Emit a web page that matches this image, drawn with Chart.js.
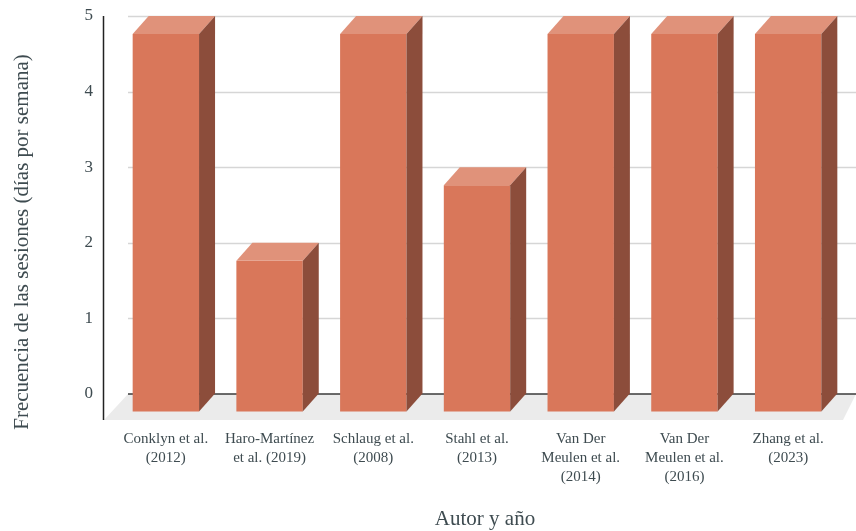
<!DOCTYPE html>
<html lang="es">
<head>
    <meta charset="UTF-8">
    <title>Frecuencia de las sesiones</title>
    <style>
        body {
            margin: 0;
            background: #ffffff;
        }
        #chartContainer {
            width: 856px;
            height: 531px;
        }
    </style>
    <script src="https://cdn.jsdelivr.net/npm/chart.js"></script>
</head>
<body>
    <div id="chartContainer">
        <canvas id="barChart"></canvas>
    </div>
    <script>
        const autores = [
            ['Conklyn et al.', '(2012)'],
            ['Haro-Martínez', 'et al. (2019)'],
            ['Schlaug et al.', '(2008)'],
            ['Stahl et al.', '(2013)'],
            ['Van Der', 'Meulen et al.', '(2014)'],
            ['Van Der', 'Meulen et al.', '(2016)'],
            ['Zhang et al.', '(2023)']
        ];
        const diasPorSemana = [5, 2, 5, 3, 5, 5, 5];
        const marcasY = [0, 1, 2, 3, 4, 5];

        const tituloY = 'Frecuencia de las sesiones (días por semana)';
        const tituloX = 'Autor y año';

        const FUENTE = "'Liberation Serif', 'DejaVu Serif', serif";
        const COLOR_TEXTO = '#3e4b50';

        // depth of the fake 3D boxes
        const PROF_X = 16;
        const PROF_Y = 18;

        const colores = {
            frente: '#d9775a',
            arriba: '#e0927a',
            lado: '#8c4d3b',
            suelo: '#ebebeb',
            rejilla: '#d6d6d6',
            cero: '#3a3a3a',
            eje: '#222222'
        };

        // Floor, gridlines and the 3D boxes are drawn here from the scales
        const barras3D = {
            id: 'barras3D',
            beforeDatasetsDraw(chart) {
                const { ctx, chartArea, scales } = chart;
                const yEsc = scales.y;
                const y0 = yEsc.getPixelForValue(0);
                const izq = chartArea.left + PROF_X - 2;
                const der = chartArea.right + PROF_X;

                ctx.save();
                // floor
                ctx.fillStyle = colores.suelo;
                ctx.beginPath();
                ctx.moveTo(izq, y0);
                ctx.lineTo(der, y0);
                ctx.lineTo(der - 13, y0 + 26);
                ctx.lineTo(izq - 24, y0 + 26);
                ctx.closePath();
                ctx.fill();

                // gridlines on the back wall
                marcasY.forEach(v => {
                    if (v === 0) return;
                    const y = Math.round(yEsc.getPixelForValue(v)) + 0.5;
                    ctx.strokeStyle = colores.rejilla;
                    ctx.lineWidth = 1.5;
                    ctx.beginPath();
                    ctx.moveTo(izq, y);
                    ctx.lineTo(der, y);
                    ctx.stroke();
                });

                ctx.strokeStyle = colores.cero;
                ctx.lineWidth = 1.5;
                ctx.beginPath();
                ctx.moveTo(izq, y0);
                ctx.lineTo(der, y0);
                ctx.stroke();
                ctx.restore();
            },
            afterDatasetsDraw(chart) {
                const { ctx, chartArea } = chart;
                const meta = chart.getDatasetMeta(0);
                ctx.save();
                meta.data.forEach(el => {
                    const x0 = el.x - el.width / 2;
                    const x1 = el.x + el.width / 2;
                    const yt = el.y + PROF_Y;
                    const yb = el.base + PROF_Y;

                    ctx.fillStyle = colores.frente;
                    ctx.fillRect(x0, yt, x1 - x0, yb - yt);

                    ctx.fillStyle = colores.arriba;
                    ctx.beginPath();
                    ctx.moveTo(x0, yt);
                    ctx.lineTo(x1, yt);
                    ctx.lineTo(x1 + PROF_X, yt - PROF_Y);
                    ctx.lineTo(x0 + PROF_X, yt - PROF_Y);
                    ctx.closePath();
                    ctx.fill();

                    ctx.fillStyle = colores.lado;
                    ctx.beginPath();
                    ctx.moveTo(x1, yt);
                    ctx.lineTo(x1 + PROF_X, yt - PROF_Y);
                    ctx.lineTo(x1 + PROF_X, yb - PROF_Y);
                    ctx.lineTo(x1, yb);
                    ctx.closePath();
                    ctx.fill();
                });

                // vertical axis line
                ctx.strokeStyle = colores.eje;
                ctx.lineWidth = 1.5;
                ctx.beginPath();
                ctx.moveTo(chartArea.left - 10.5, chartArea.top);
                ctx.lineTo(chartArea.left - 10.5, chart.scales.y.getPixelForValue(0) + 26);
                ctx.stroke();
                ctx.restore();
            },
            afterDraw(chart) {
                const { ctx } = chart;
                ctx.save();
                ctx.fillStyle = COLOR_TEXTO;
                ctx.font = '21px ' + FUENTE;
                ctx.textAlign = 'center';
                ctx.textBaseline = 'middle';
                ctx.fillText(tituloX, 485, 519);

                ctx.translate(22, 242);
                ctx.rotate(-Math.PI / 2);
                ctx.fillText(tituloY, 0, 0);
                ctx.restore();
            }
        };

        // invisible tick marks, used only to space the labels from the axis
        const sinMarca = {
            color: 'rgba(0,0,0,0)',
            drawOnChartArea: false,
            drawTicks: true
        };

        const ctx = document.getElementById('barChart').getContext('2d');

        new Chart(ctx, {
            type: 'bar',
            data: {
                labels: autores,
                datasets: [{
                    data: diasPorSemana,
                    backgroundColor: 'rgba(0,0,0,0)',
                    borderWidth: 0,
                    barPercentage: 0.64,
                    categoryPercentage: 1
                }]
            },
            options: {
                responsive: true,
                maintainAspectRatio: false,
                animation: false,
                events: [],
                layout: {
                    padding: { top: 16, right: 16, left: 0, bottom: 0 }
                },
                plugins: {
                    legend: { display: false },
                    tooltip: { enabled: false }
                },
                scales: {
                    x: {
                        grid: { ...sinMarca, tickLength: 36 },
                        border: { display: false },
                        ticks: {
                            color: COLOR_TEXTO,
                            font: { family: FUENTE, size: 15, lineHeight: 1.25 },
                            padding: 0,
                            maxRotation: 0,
                            autoSkip: false
                        },
                        afterFit(scale) {
                            scale.height = 137;
                        }
                    },
                    y: {
                        min: 0,
                        max: 5,
                        grid: { ...sinMarca, tickLength: 21 },
                        border: { display: false },
                        ticks: {
                            stepSize: 1,
                            color: COLOR_TEXTO,
                            font: { family: FUENTE, size: 17 },
                            padding: 0
                        },
                        afterFit(scale) {
                            scale.width = 114;
                        }
                    }
                }
            },
            plugins: [barras3D]
        });
    </script>
</body>
</html>
